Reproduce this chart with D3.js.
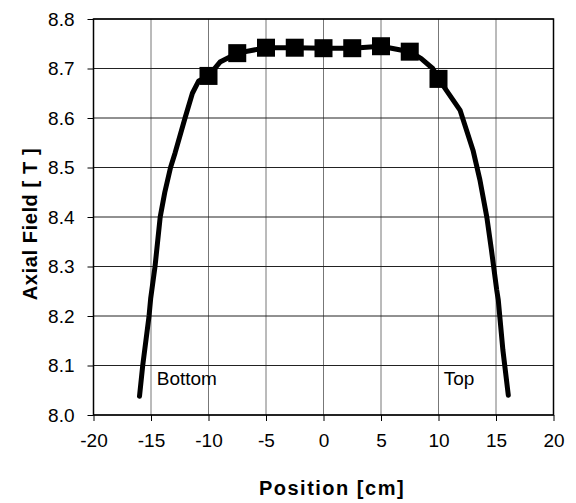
<!DOCTYPE html>
<html>
<head>
<meta charset="utf-8">
<script src="https://cdn.jsdelivr.net/npm/d3@7"></script>
<style>
    body { margin: 0; background: #fff; }
    text { font-family: "Liberation Sans", Arial, sans-serif; fill: #000; }
    .tick-label { font-size: 19px; }
    .axis-title { font-size: 20px; font-weight: bold; }
    .note { font-size: 19px; }
</style>
</head>
<body>
<div id="chart"></div>
<script>
    // field profile along the bore
    var curveX = [-16.0, -15.72, -15.17, -15.03, -14.65, -14.2, -13.8, -13.3, -12.9, -12.04, -11.4, -10.85,
        -10, -9.0, -7.5, -5, -2.5, 0, 2.5, 5, 7.5, 8.5, 9.5, 10,
        11.87, 13.0, 13.6, 14.2, 14.6, 15.06, 15.2, 15.6, 16.07];
    var curveB = [8.038, 8.10, 8.20, 8.235, 8.30, 8.40, 8.45, 8.50, 8.53, 8.60, 8.65, 8.675,
        8.685, 8.713, 8.731, 8.742, 8.742, 8.741, 8.741, 8.745, 8.734, 8.72, 8.70, 8.679,
        8.616, 8.535, 8.475, 8.40, 8.334, 8.253, 8.232, 8.131, 8.04];

    // measured points (squares)
    var pointX = [-10, -7.5, -5, -2.5, 0, 2.5, 5, 7.5, 10];
    var pointB = [8.685, 8.731, 8.742, 8.742, 8.741, 8.741, 8.745, 8.734, 8.679];

    var xTicks = [-20, -15, -10, -5, 0, 5, 10, 15, 20];
    var yTicks = [8.0, 8.1, 8.2, 8.3, 8.4, 8.5, 8.6, 8.7, 8.8];

    var notes = [
        { text: "Bottom", x: -14.5, y: 8.061 },
        { text: "Top", x: 10.45, y: 8.061 }
    ];

    var width = 576, height = 503;
    var margin = { top: 19, right: 22.5, bottom: 88, left: 93.5 };
    var innerW = width - margin.left - margin.right,
        innerH = height - margin.top - margin.bottom;

    var svg = d3.select("#chart").append("svg")
        .attr("width", width)
        .attr("height", height);

    var g = svg.append("g")
        .attr("transform", "translate(" + margin.left + "," + margin.top + ")");

    var x = d3.scaleLinear().domain([-20, 20]).range([0, innerW]);
    var y = d3.scaleLinear().domain([8.0, 8.8]).range([innerH, 0]);

    // grid
    g.selectAll(".vgrid").data(xTicks).enter().append("line")
        .attr("x1", function (d) { return x(d); })
        .attr("x2", function (d) { return x(d); })
        .attr("y1", 0).attr("y2", innerH)
        .style("stroke", "#777").style("stroke-width", 1);

    g.selectAll(".hgrid").data(yTicks).enter().append("line")
        .attr("x1", 0).attr("x2", innerW)
        .attr("y1", function (d) { return y(d); })
        .attr("y2", function (d) { return y(d); })
        .style("stroke", "#222").style("stroke-width", 1);

    // axes (plain hyphen for negatives, like the original)
    var xAxis = g.append("g")
        .attr("transform", "translate(0," + innerH + ")")
        .call(d3.axisBottom(x).tickValues(xTicks).tickSize(6).tickPadding(17)
            .tickFormat(function (d) { return String(d); }));
    var yAxis = g.append("g")
        .call(d3.axisLeft(y).tickValues(yTicks).tickSize(6).tickPadding(13)
            .tickFormat(function (d) { return d.toFixed(1); }));

    [xAxis, yAxis].forEach(function (a) {
        a.select(".domain").remove();
        a.selectAll("line").style("stroke", "#000");
        a.selectAll("text").attr("class", "tick-label");
        a.attr("font-family", null).attr("font-size", null);
    });
    xAxis.selectAll("text").attr("transform", "translate(0,-4)");

    // frame
    g.append("rect")
        .attr("width", innerW).attr("height", innerH)
        .style("fill", "none").style("stroke", "#000").style("stroke-width", 1.5);

    // curve
    var line = d3.line()
        .x(function (d) { return x(d[0]); })
        .y(function (d) { return y(d[1]); });

    g.append("path")
        .datum(d3.zip(curveX, curveB))
        .attr("d", line)
        .style("fill", "none")
        .style("stroke", "#000")
        .style("stroke-width", 5)
        .style("stroke-linejoin", "round")
        .style("stroke-linecap", "round");

    var sq = 18;
    g.selectAll(".pt").data(d3.zip(pointX, pointB)).enter().append("rect")
        .attr("x", function (d) { return x(d[0]) - sq / 2; })
        .attr("y", function (d) { return y(d[1]) - sq / 2; })
        .attr("width", sq).attr("height", sq)
        .style("fill", "#000");

    g.selectAll(".note").data(notes).enter().append("text")
        .attr("class", "note")
        .attr("x", function (d) { return x(d.x); })
        .attr("y", function (d) { return y(d.y); })
        .text(function (d) { return d.text; });

    // axis titles
    svg.append("text")
        .attr("class", "axis-title")
        .attr("x", 332)
        .attr("y", 495)
        .attr("text-anchor", "middle")
        .style("letter-spacing", "1.5px")
        .text("Position [cm]");

    svg.append("text")
        .attr("class", "axis-title")
        .attr("transform", "translate(37," + (margin.top + innerH / 2 + 7) + ") rotate(-90)")
        .attr("text-anchor", "middle")
        .style("letter-spacing", "0.6px")
        .text("Axial Field [ T ]");
</script>
</body>
</html>
